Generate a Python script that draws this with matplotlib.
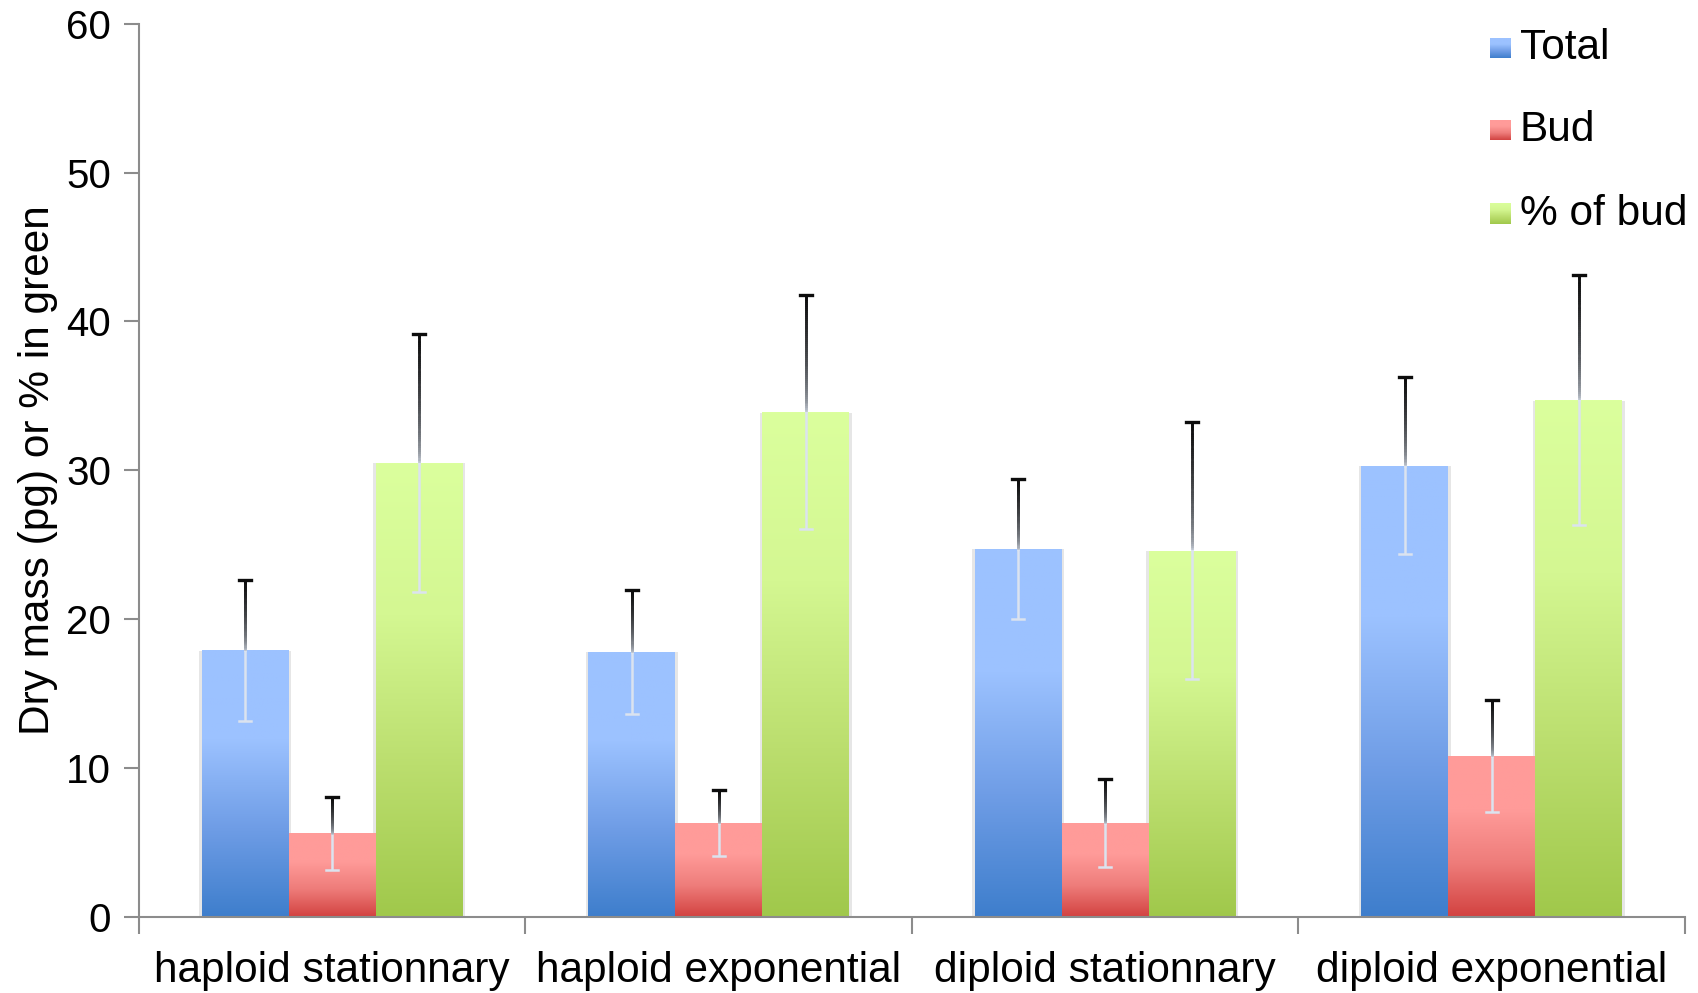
import numpy as np
import matplotlib
matplotlib.use("Agg")
import matplotlib.pyplot as plt
from matplotlib.colors import LinearSegmentedColormap
from matplotlib.collections import LineCollection
from matplotlib.patches import Rectangle

plt.rcParams['font.family'] = ['Liberation Sans', 'DejaVu Sans']

categories = ["haploid stationnary", "haploid exponential", "diploid stationnary", "diploid exponential"]
series_names = ["Total", "Bud", "% of bud"]
total_vals = [17.9, 17.8, 24.7, 30.3]
total_err = [4.75, 4.15, 4.7, 5.95]
bud_vals = [5.6, 6.3, 6.3, 10.8]
bud_err = [2.45, 2.2, 2.95, 3.75]
pct_vals = [30.5, 33.9, 24.6, 34.7]
pct_err = [8.65, 7.85, 8.65, 8.4]

series_vals = [total_vals, bud_vals, pct_vals]
series_errs = [total_err, bud_err, pct_err]
# gradient stops (bottom -> top)
grad_colors = [
    ["#3E7ECC", "#6F9DE6", "#9CC2FF", "#9CC2FF"],
    ["#D24240", "#EE7C7A", "#FF9B99", "#FF9B99"],
    ["#A0C84B", "#BBDE6E", "#D4F792", "#DBFF9D"],
]
cmaps = [LinearSegmentedColormap.from_list(f"g{i}", c) for i, c in enumerate(grad_colors)]

W, H = 1699, 993
dpi = 100
fig = plt.figure(figsize=(W / dpi, H / dpi), dpi=dpi)
ax = fig.add_axes([139 / W, 1 - 916.7 / H, (1685 - 139) / W, (916.7 - 23.8) / H])

x = np.arange(len(categories))
bw = 0.225
offsets = [-bw, 0, bw]
grad = np.linspace(0, 1, 256).reshape(-1, 1)

for si in range(3):
    vals = series_vals[si]
    bars = ax.bar(x + offsets[si], vals, width=bw, color='none', edgecolor='none', zorder=2)
    for b in bars:
        x0, y0 = b.get_x(), b.get_y()
        w, h = b.get_width(), b.get_height()
        # soft shadow
        ax.add_patch(Rectangle((x0 - 0.006, y0 - 0.12), w + 0.012, h + 0.1,
                               facecolor='#e6e6e6', edgecolor='none', zorder=1))
        im = ax.imshow(grad, cmap=cmaps[si], origin='lower', aspect='auto',
                       extent=(x0, x0 + w, y0, y0 + h), zorder=3)
        im.set_clip_path(b)

# error bars
cap = 0.016
light = np.array(matplotlib.colors.to_rgb('#dbe3ef'))
dark = np.array([0.05, 0.05, 0.05])
for si in range(3):
    for xi, (v, e) in enumerate(zip(series_vals[si], series_errs[si])):
        xc = x[xi] + offsets[si]
        lo, hi = v - e, v + e
        ax.plot([xc, xc], [lo, v], color=light, lw=1.8, zorder=4, solid_capstyle='butt')
        ax.plot([xc - cap, xc + cap], [lo, lo], color=light, lw=1.8, zorder=4)
        n = 60
        ys = np.linspace(v, hi, n + 1)
        segs = [[(xc, ys[k]), (xc, ys[k + 1])] for k in range(n)]
        t = np.linspace(0, 1, n) ** 0.45
        cols = [tuple(light * (1 - tt) + dark * tt) for tt in t]
        ax.add_collection(LineCollection(segs, colors=cols, linewidths=1.9, zorder=4,
                                         capstyle='projecting'))
        ax.plot([xc - cap, xc + cap], [hi, hi], color=dark, lw=2.4, zorder=4)

ax.set_xlim(-0.5, 3.5)
ax.set_ylim(0, 60)
ax.set_yticks(np.arange(0, 61, 10))
ax.set_xticks(x)
ax.set_xticklabels(categories, fontsize=30.5)
ax.set_xticks(np.arange(-0.5, 3.6, 1), minor=True)
ax.tick_params(axis='x', which='major', length=0, pad=25)
ax.tick_params(axis='x', which='minor', length=12, width=1.5, color='#8c8c8c')
ax.tick_params(axis='y', length=11, width=1.5, color='#8c8c8c', labelsize=29, pad=9)
for s in ['top', 'right']:
    ax.spines[s].set_visible(False)
for s in ['left', 'bottom']:
    ax.spines[s].set_color('#8c8c8c')
    ax.spines[s].set_linewidth(1.5)
ax.spines['bottom'].set_zorder(5)
ax.set_ylabel("Dry mass (pg) or % in green", fontsize=30.5)
ax.yaxis.set_label_coords(-0.0525, 0.5)

# legend (manual, gradient swatches)
leg_y = [48, 130, 214]
for si in range(3):
    yc = leg_y[si]
    sq = fig.add_axes([1490 / W, 1 - (yc + 10.5) / H, 21 / W, 21 / H])
    sq.imshow(grad, cmap=cmaps[si], origin='lower', aspect='auto')
    sq.axis('off')
    fig.text(1520 / W, 1 - yc / H, series_names[si], fontsize=30.5, va='center', ha='left')

fig.savefig("out.png", dpi=dpi)
